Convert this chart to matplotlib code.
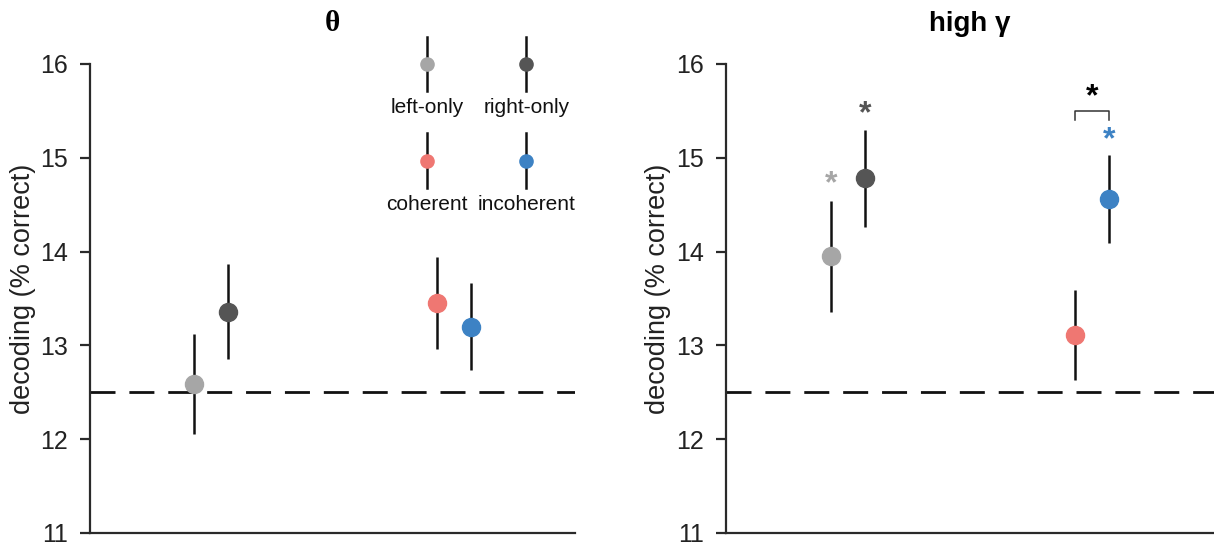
import matplotlib.pyplot as plt
import numpy as np

plt.rcParams['font.family'] = ['Liberation Sans', 'DejaVu Sans']

conditions = ['left-only', 'right-only', 'coherent', 'incoherent']
colors = ['#a6a6a6', '#555555', '#ef7772', '#3d82c4']
# x position of each condition (two groups, paired)
xpos = [0.93, 1.07, 1.93, 2.07]

theta_mean = [12.59, 13.36, 13.45, 13.20]
theta_err = [0.53, 0.51, 0.49, 0.46]

gamma_mean = [13.95, 14.78, 13.11, 14.56]
gamma_err = [0.59, 0.52, 0.48, 0.47]

chance = 12.5
yticks = [11, 12, 13, 14, 15, 16]

fig = plt.figure(figsize=(12.14, 5.48), dpi=100)
ax1 = fig.add_axes([0.0741, 0.0274, 0.3995, 0.856])
ax2 = fig.add_axes([0.598, 0.0274, 0.402, 0.856])


def style_axis(ax, title, title_kw):
    ax.set_xlim(0.5, 2.5)
    ax.set_ylim(11, 16)
    ax.set_yticks(yticks)
    ax.set_xticks([])
    for s in ['top', 'right']:
        ax.spines[s].set_visible(False)
    for s in ['left', 'bottom']:
        ax.spines[s].set_linewidth(1.6)
        ax.spines[s].set_color('#2a2a2a')
    ax.tick_params(axis='y', length=7, width=1.6, color='#2a2a2a',
                   labelsize=18, labelcolor='#222222', pad=9)
    ax.set_ylabel('decoding (% correct)', fontsize=19.5, color='#222222')
    # label sits a little above the axis midpoint
    ax.yaxis.set_label_coords(-0.112, 0.52)
    ax.axhline(chance, color='#111111', lw=2, dashes=(9, 5), zorder=1)
    ax.set_title(title, pad=24, **title_kw)


def draw_points(ax, means, errs):
    for x, m, e, c in zip(xpos, means, errs, colors):
        ax.errorbar(x, m, yerr=e, fmt='o', color=c, ecolor='#111111',
                    elinewidth=1.8, markersize=13, capsize=0, zorder=3)


style_axis(ax1, 'θ', dict(fontsize=21, fontweight='bold', family='Liberation Serif'))
style_axis(ax2, 'high γ', dict(fontsize=20, fontweight='bold'))

draw_points(ax1, theta_mean, theta_err)
draw_points(ax2, gamma_mean, gamma_err)

# key drawn inside the theta panel
key_x = [1.89, 2.30, 1.89, 2.30]
key_y = [16.0, 16.0, 14.97, 14.97]
for kx, ky, c, name in zip(key_x, key_y, colors, conditions):
    ax1.plot([kx, kx], [ky - 0.29, ky + 0.29], color='#111111', lw=1.8,
             clip_on=False, zorder=2)
    ax1.plot(kx, ky, 'o', color=c, markersize=9.5, clip_on=False, zorder=3)
    ax1.text(kx, ky - 0.47, name, ha='center', va='center', fontsize=15,
             color='#111111')

# significance marks in the high gamma panel
star_y = [14.72, 15.46, None, 15.19]
for x, sy, c in zip(xpos, star_y, colors):
    if sy is not None:
        ax2.text(x, sy, '*', ha='center', va='center', fontsize=23,
                 fontweight='bold', color=c)

ax2.plot([xpos[2], xpos[2], xpos[3], xpos[3]], [15.40, 15.50, 15.50, 15.40],
         color='#333333', lw=1.1)
ax2.text((xpos[2] + xpos[3]) / 2, 15.64, '*', ha='center', va='center',
         fontsize=23, fontweight='bold', color='#000000')

fig.savefig('out.png', dpi=100)
